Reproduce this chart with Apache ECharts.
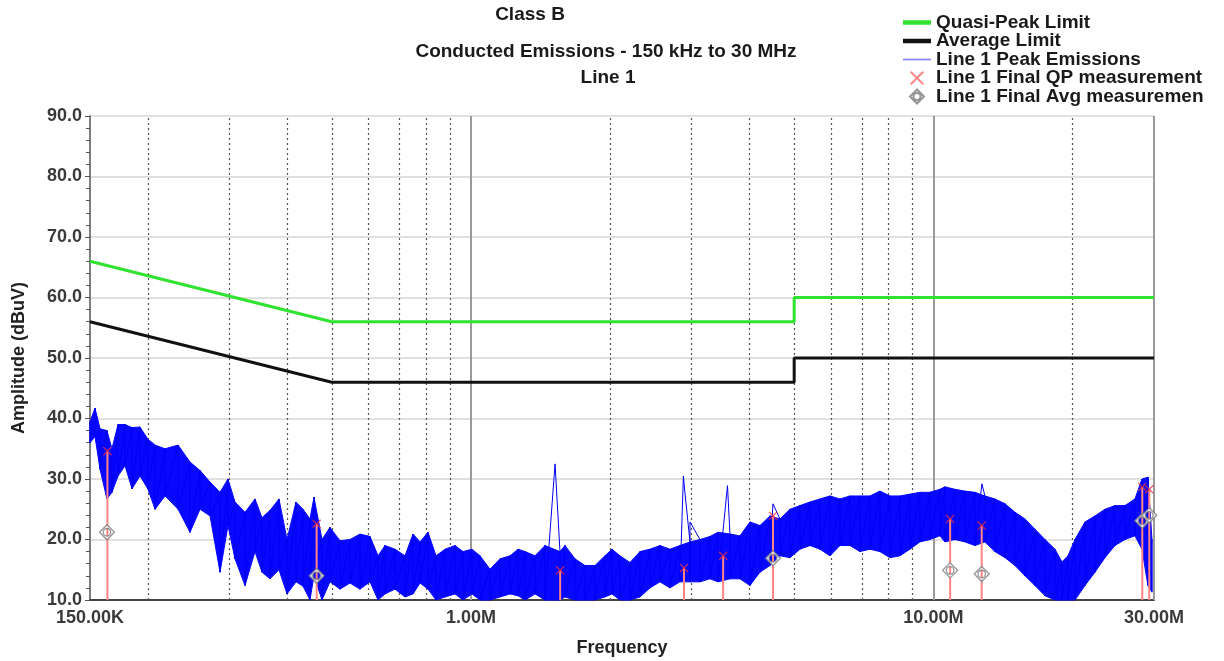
<!DOCTYPE html>
<html><head><meta charset="utf-8">
<script src="https://cdn.jsdelivr.net/npm/echarts@6/dist/echarts.min.js"></script>
<style>html,body{margin:0;padding:0;background:#fff}#c{width:1224px;height:661px}</style>
</head><body><div id="c"></div><script>
// ---------- data (frequency in MHz, amplitude in dBuV) ----------
const xTickValues = [0.15, 1, 10, 30];
const xTickLabels = ['150.00K', '1.00M', '10.00M', '30.00M'];
const minorGridMHz = [0.2,0.3,0.4,0.5,0.6,0.7,0.8,0.9,2,3,4,5,6,7,8,9,20];
const majorGridMHz = [1, 10, 30];

const qpLimitFreq = [0.15, 0.5, 5, 5, 30];
const qpLimitVal  = [66, 56, 56, 60, 60];
const avgLimitFreq = [0.15, 0.5, 5, 5, 30];
const avgLimitVal  = [56, 46, 46, 50, 50];

const peakFreqMHz = [0.150,0.1538,0.1577,0.1632,0.1673,0.1725,0.1786,0.1849,0.1924,0.2,0.2074,0.2179,0.2326,0.2468,0.2594,0.2727,0.2866,0.2982,0.3088,0.3246,0.3411,0.3532,0.3676,0.3844,0.4001,0.4184,0.4332,0.4486,0.4576,0.4762,0.4955,0.5209,0.5475,0.5755,0.6049,0.6295,0.6518,0.6851,0.72,0.7493,0.7759,0.8074,0.8402,0.8787,0.9236,0.9611,1.0052,1.046,1.0995,1.1557,1.2146,1.2639,1.3088,1.3756,1.4457,1.5577,1.597,1.6787,1.7643,1.8543,1.9488,2.018,2.1,2.2074,2.3201,2.4384,2.5626,2.6934,2.8308,2.9759,3.1278,3.2874,3.4211,3.6315,3.8168,4.0118,4.2165,4.4315,4.6587,4.8968,5.1464,5.409,5.6852,5.9753,6.2804,6.6009,6.9375,7.2918,7.6637,8.055,8.4665,8.8982,9.3525,9.8295,10.331,10.591,11.132,11.701,12.298,12.926,13.586,14.287,15.014,15.78,16.586,17.43,18.322,18.972,19.548,20.241,21.276,22.362,23.5,24.7,25.96,27.287,28.254,29.11,29.7];
const peakHigh = [39.5,41.7,38.3,38,35,39,39,38.5,38.6,36.6,35.6,35,35.6,32.8,31.4,29.5,27.8,30,26.2,24.5,26.7,23.6,24.8,26.7,20,26.2,25,23.4,27,20,22,19.8,20,20.9,20.5,17.3,19,18.4,17.3,20.9,19.6,21.2,17.3,18.4,19,18,18.4,17.3,15.1,16.8,17.3,18.4,18,17.3,19,18,19,16.8,15.7,15.7,17.3,18.4,17.3,16.2,18,18.4,19,18.4,19,19.6,20,20.5,21.2,20.9,20.6,22.9,22.3,23.9,23.4,25,25.6,26.2,26.7,27.2,26.7,27.2,27.2,27.2,28,27.2,27.2,27.5,27.8,27.8,28.3,28.7,28.3,28,27.8,27.2,26.7,25.9,24.5,23.4,21.7,20,18.4,16.3,17.3,20,22.9,23.9,25,25.6,25.6,26.7,30,30.3,20];
const peakLow = [36,37,31.6,26.7,27.8,30.5,32.2,28.4,30.5,28.4,25,27.2,25,21.2,25,23.9,14.6,22.3,16.8,12.4,18,14.6,13.5,15,11,13,12.3,10,14,10,13,11.8,12.8,11.8,13,10,11,11.8,10.5,11,12.8,11.8,10,10.5,11,10,11,10,10,10.5,11,10.7,10,11,10,10,10.5,10,10,10,10.5,11,10,10,10.5,12,13,12,13,13,13,13.5,13,13.5,13.5,12.4,14.6,15.7,17.3,17,18.4,19,18.4,17.3,19,19,18,18.4,18,17,17.3,18.4,19.6,20,20.6,19.6,20,19.6,19,19.6,18,17,15.7,14,12.4,10.7,10,10,10,10,12.4,14.6,17,19,20,20.6,18.4,12.4,11.3];
const spikeFreqMHz = [1.52, 2.88, 2.90, 2.976, 3.587, 4.498, 12.735];
const spikeLevel   = [32.5, 30.5, 28.0, 22.9, 28.9, 25.9, 29.2];

const qpFreqMHz = [0.1636, 0.4637, 1.559, 2.889, 3.51, 4.5, 10.87, 12.72, 28.3, 29.3];
const qpLevel   = [34.6, 22.6, 14.9, 15.3, 17.3, 23.9, 23.4, 22.3, 28.7, 28.3];
const avgFreqMHz = [0.1632, 0.4637, 4.5, 10.87, 12.72, 28.3, 29.3];
const avgLevel   = [21.2, 14.0, 16.9, 14.9, 14.3, 23.1, 24.0];

const yMin = 10, yMax = 90, yStep = 10;

// ---------- build ----------
const FONT = "'Liberation Sans', Arial, sans-serif";
const pairs = (xs, ys) => xs.map((x, i) => [x, ys[i]]);

// peak trace: high/low at each read frequency, spikes merged in by frequency
const tracePts = [];
peakFreqMHz.forEach((f, i) => { tracePts.push({f, v: peakHigh[i], k: 0}); tracePts.push({f, v: peakLow[i], k: 1}); });
spikeFreqMHz.forEach((f, i) => tracePts.push({f, v: spikeLevel[i], k: 0}));
tracePts.sort((a, b) => a.f - b.f || a.k - b.k);
const traceData = tracePts.map(p => [p.f, p.v]);

const bandData = peakFreqMHz.map((f, i) => [f, peakHigh[i], peakLow[i]]);

const markerData = [];
minorGridMHz.forEach(f => markerData.push({xAxis: f, lineStyle: {color: '#555', width: 1.2, type: [2, 3]}}));
majorGridMHz.forEach(f => markerData.push({xAxis: f, lineStyle: {color: '#9a9a9a', width: 2, type: 'solid'}}));

const xPath = 'path://M0,1 L1,0 L5,4 L9,0 L10,1 L6,5 L10,9 L9,10 L5,6 L1,10 L0,9 L4,5 Z';
const dPath = 'path://M10,0 L20,10 L10,20 L0,10 Z M15,10 A5,5 0 1 0 5,10 A5,5 0 1 0 15,10 Z';

const chart = echarts.init(document.getElementById('c'), null, {renderer: 'canvas'});
chart.setOption({
  animation: false,
  backgroundColor: '#fff',
  textStyle: {fontFamily: FONT},
  graphic: [
    {type: 'text', style: {text: 'Class B', x: 530, y: 15, textAlign: 'center', textVerticalAlign: 'middle', font: "bold 19px " + FONT, fill: '#1a1a1a'}},
    {type: 'text', style: {text: 'Conducted Emissions - 150 kHz to 30 MHz', x: 606, y: 52, textAlign: 'center', textVerticalAlign: 'middle', font: "bold 19px " + FONT, fill: '#1a1a1a'}},
    {type: 'text', style: {text: 'Line 1', x: 608, y: 78, textAlign: 'center', textVerticalAlign: 'middle', font: "bold 19px " + FONT, fill: '#1a1a1a'}}
  ],
  legend: {
    orient: 'vertical', left: 898, top: 8, itemGap: -0.5, itemWidth: 28, itemHeight: 14,
    selectedMode: false, symbolKeepAspect: true,
    textStyle: {fontFamily: FONT, fontWeight: 'bold', fontSize: 19, color: '#1a1a1a'},
    data: [
      {name: 'Quasi-Peak Limit', icon: 'path://M0,0L28,0L28,4.5L0,4.5Z', itemStyle: {color: '#2fe32f'}},
      {name: 'Average Limit', icon: 'path://M0,0L28,0L28,4.5L0,4.5Z', itemStyle: {color: '#111'}},
      {name: 'Line 1 Peak Emissions', icon: 'path://M0,0L28,0L28,1.6L0,1.6Z', itemStyle: {color: '#8080ff'}},
      {name: 'Line 1 Final QP measurement', icon: xPath, itemStyle: {color: '#ff6a6a'}},
      {name: 'Line 1 Final Avg measuremen', icon: dPath}
    ]
  },
  grid: {left: 90, right: 70, top: 116, bottom: 61, containLabel: false, outerBoundsMode: 'none'},
  xAxis: {
    type: 'log', logBase: 10, min: 0.15, max: 30,
    name: 'Frequency', nameLocation: 'middle', nameGap: 39,
    nameTextStyle: {fontFamily: FONT, fontWeight: 'bold', fontSize: 18, color: '#222'},
    axisLine: {show: true, lineStyle: {color: '#444', width: 2}},
    axisTick: {show: false},
    splitLine: {show: false},
    minorTick: {show: false}, minorSplitLine: {show: false},
    axisLabel: {
      customValues: xTickValues,
      showMinLabel: true, showMaxLabel: true,
      margin: 9, fontFamily: FONT, fontWeight: 'bold', fontSize: 18, color: '#3a3a3a',
      formatter: v => {
        for (let i = 0; i < xTickValues.length; i++) {
          if (Math.abs(Math.log10(v / xTickValues[i])) < 0.01) return xTickLabels[i];
        }
        return '';
      }
    }
  },
  yAxis: {
    type: 'value', min: yMin, max: yMax, interval: yStep,
    name: 'Amplitude (dBuV)', nameLocation: 'middle', nameGap: 62,
    nameTextStyle: {fontFamily: FONT, fontWeight: 'bold', fontSize: 18, color: '#222'},
    axisLine: {show: true, lineStyle: {color: '#555', width: 1.5}},
    axisTick: {show: true, length: 5, lineStyle: {color: '#555'}},
    minorTick: {show: true, splitNumber: 5, length: 4, lineStyle: {color: '#555'}},
    splitLine: {show: true, lineStyle: {color: '#d6d6d6', width: 1.5}},
    axisLabel: {margin: 8, fontFamily: FONT, fontWeight: 'bold', fontSize: 18, color: '#3a3a3a', formatter: v => v.toFixed(1)}
  },
  series: [
    {
      name: 'Line 1 Peak Emissions band', type: 'custom', z: 2, silent: true,
      data: bandData, encode: {x: 0, y: [1, 2]},
      renderItem: (params, api) => {
        const i = params.dataIndex;
        if (i >= peakFreqMHz.length - 1) return null;
        const pts = [
          api.coord([peakFreqMHz[i], peakHigh[i]]),
          api.coord([peakFreqMHz[i + 1], peakHigh[i + 1]]),
          api.coord([peakFreqMHz[i + 1], peakLow[i + 1]]),
          api.coord([peakFreqMHz[i], peakLow[i]])
        ];
        return {type: 'polygon', shape: {points: pts}, style: {fill: '#0808ff', stroke: '#0808ff', lineWidth: 1}};
      }
    },
    {
      name: 'Line 1 Peak Emissions', type: 'line', z: 3, data: traceData,
      symbol: 'none', showSymbol: false, lineStyle: {color: '#0000f0', width: 1}, itemStyle: {color: '#8080ff'}
    },
    {
      name: 'QP stems', type: 'custom', z: 4, silent: true,
      data: pairs(qpFreqMHz, qpLevel), encode: {x: 0, y: 1},
      renderItem: (params, api) => {
        const i = params.dataIndex;
        const a = api.coord([qpFreqMHz[i], qpLevel[i]]);
        const b = api.coord([qpFreqMHz[i], yMin]);
        return {type: 'line', shape: {x1: a[0], y1: a[1], x2: b[0], y2: b[1]}, style: {stroke: '#ff8484', lineWidth: 2}};
      }
    },
    {
      name: 'Line 1 Final QP measurement', type: 'scatter', z: 6,
      data: pairs(qpFreqMHz, qpLevel), symbol: xPath, symbolSize: 9,
      itemStyle: {color: '#e8303a'}
    },
    {
      name: 'Line 1 Final Avg measuremen', type: 'scatter', z: 6,
      data: pairs(avgFreqMHz, avgLevel), symbol: dPath, symbolSize: 15,
      itemStyle: {color: '#ffffff', borderColor: '#7a7a7a', borderWidth: 1.3}
    },
    {
      name: 'Quasi-Peak Limit', type: 'line', z: 8, data: pairs(qpLimitFreq, qpLimitVal),
      symbol: 'none', showSymbol: false, lineStyle: {color: '#2fe32f', width: 3}, itemStyle: {color: '#2fe32f'},
      markLine: {silent: true, z: 1, symbol: ['none', 'none'], label: {show: false}, animation: false, data: markerData}
    },
    {
      name: 'Average Limit', type: 'line', z: 8, data: pairs(avgLimitFreq, avgLimitVal),
      symbol: 'none', showSymbol: false, lineStyle: {color: '#111', width: 3}, itemStyle: {color: '#111'}
    }
  ]
});
</script></body></html>
